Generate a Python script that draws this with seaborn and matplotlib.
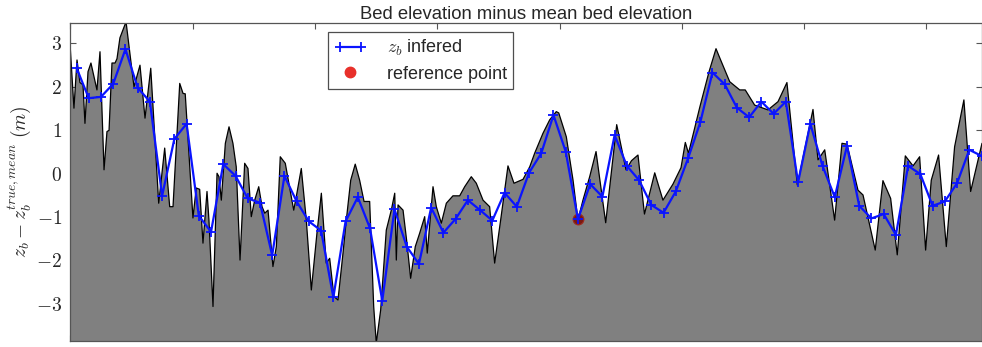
import numpy as np
import pandas as pd
import matplotlib
matplotlib.use("Agg")
import matplotlib.pyplot as plt
from matplotlib.lines import Line2D
from matplotlib.legend_handler import HandlerLine2D
import seaborn as sns

# ---- data ----
bed_x = [0.000, 0.029, 0.054, 0.078, 0.103, 0.119, 0.144, 0.168, 0.217, 0.242,
         0.275, 0.299, 0.316, 0.340, 0.365, 0.381, 0.405, 0.455, 0.520, 0.569,
         0.610, 0.657, 0.722, 0.771, 0.812, 0.839, 0.894, 0.921, 0.939, 1.002,
         1.029, 1.057, 1.084, 1.117, 1.133, 1.166, 1.199, 1.215, 1.234, 1.267,
         1.297, 1.329, 1.356, 1.387, 1.425, 1.452, 1.479, 1.507, 1.540, 1.567,
         1.589, 1.616, 1.656, 1.684, 1.716, 1.757, 1.826, 1.847, 1.888, 1.929,
         1.970, 2.016, 2.052, 2.092, 2.120, 2.155, 2.188, 2.229, 2.256, 2.292,
         2.329, 2.365, 2.401, 2.447, 2.480, 2.501, 2.537, 2.583, 2.624, 2.652,
         2.665, 2.679, 2.720, 2.752, 2.782, 2.820, 2.856, 2.897, 2.918, 2.965,
         2.992, 3.033, 3.074, 3.128, 3.183, 3.224, 3.278, 3.319, 3.374, 3.428,
         3.469, 3.518, 3.578, 3.627, 3.701, 3.756, 3.796, 3.864, 3.919, 3.973,
         3.993, 4.020, 4.055, 4.110, 4.150, 4.191, 4.246, 4.298, 4.377, 4.467,
         4.543, 4.588, 4.641, 4.694, 4.778, 4.845, 4.927, 4.993, 5.028, 5.054,
         5.148, 5.222, 5.279, 5.311, 5.391, 5.473, 5.518, 5.595, 5.704, 5.786,
         5.859, 5.944, 6.072, 6.113, 6.168, 6.249, 6.309, 6.350, 6.440, 6.481,
         6.581, 6.644, 6.707, 6.761, 6.827, 6.890, 6.944, 6.993, 7.039, 7.099,
         7.162, 7.230, 7.306, 7.361, 7.454]
bed_z = [2.85, 1.51, 2.62, 2.10, 2.05, 1.16, 2.35, 2.55, 1.93, 2.81,
         0.09, 0.97, 1.00, 2.55, 2.55, 2.65, 3.13, 3.50, 2.00, 2.50,
         1.28, 2.43, -0.68, 0.59, -0.76, -0.76, 2.08, 1.85, 1.84, -1.02,
         -0.33, -0.36, -1.60, -0.41, -1.07, -3.06, 0.01, -0.07, -0.61, 0.70,
         1.08, 0.70, 0.16, -1.99, 0.24, 0.12, -0.99, -0.61, -0.30, -0.76,
         -0.91, -0.84, -2.14, -1.68, 0.39, 0.24, -0.84, -0.53, 0.12, -1.07,
         -2.68, -1.37, -0.45, -2.06, -1.95, -2.83, -2.91, -1.83, -1.07, -0.15,
         0.22, -0.15, -0.64, -0.64, -3.06, -3.90, -3.14, -1.30, -0.84, -0.45,
         -1.99, -0.72, -0.84, -1.60, -2.41, -1.68, -1.37, -0.99, -1.83, -0.30,
         -0.76, -1.14, -0.68, -0.51, -0.51, -0.30, -0.07, -0.22, -0.61, -0.76,
         -2.06, -1.07, 0.18, -0.22, -0.13, 0.16, 0.47, 0.93, 1.24, 1.43,
         1.40, 1.16, 0.85, -0.15, -1.07, -0.61, -0.07, 0.51, -1.13, 1.13,
         0.09, 0.30, 0.43, -0.93, 0.02, -0.61, -0.24, 0.14, 0.72, 0.47,
         1.55, 2.35, 2.88, 2.66, 2.12, 1.93, 1.93, 1.58, 1.47, 1.66,
         2.10, -0.26, 1.48, 0.32, 0.55, -1.07, 0.70, 0.68, -0.38, -0.49,
         -1.76, -0.16, -0.57, -1.87, 0.41, 0.18, 0.39, -1.76, -0.15, 0.43,
         -1.68, 0.62, 1.70, -0.41, 0.70]

z_inf = [2.44, 1.74, 1.77, 2.07, 2.87, 1.98, 1.66, -0.51, 0.80, 1.15,
         -0.97, -1.34, 0.22, -0.05, -0.57, -0.67, -1.88, -0.05, -0.64, -1.10,
         -1.31, -2.85, -1.10, -0.54, -1.26, -2.93, -0.82, -1.68, -2.08, -0.78,
         -1.36, -1.04, -0.61, -0.84, -1.08, -0.44, -0.76, 0.02, 0.47, 1.35,
         0.51, -1.05, -0.24, -0.53, 0.89, 0.18, -0.15, -0.72, -0.90, -0.41,
         0.35, 1.18, 2.33, 2.06, 1.52, 1.30, 1.66, 1.38, 1.66, -0.20,
         1.15, 0.18, -0.54, 0.64, -0.74, -1.03, -0.93, -1.41, 0.18, -0.01,
         -0.74, -0.64, -0.22, 0.55, 0.41]
x_inf = 0.05 + 0.1 * np.arange(len(z_inf))

ref_x = [4.15]
ref_z = [-1.05]

y_ticks = [-3, -2, -1, 0, 1, 2, 3]
x_ticks = [0, 1, 2, 3, 4, 5, 6, 7]

# ---- plotting ----
sns.set_style("ticks")
plt.rcParams["font.family"] = ["Liberation Sans", "DejaVu Sans"]
plt.rcParams["mathtext.fontset"] = "cm"

fig = plt.figure(figsize=(9.82, 3.47), dpi=100)
ax = fig.add_axes([70.4 / 982, 6 / 347, 1 - 70.4 / 982, 318 / 347])

ymin, ymax = -3.855, 3.472
ax.fill_between(bed_x, ymin - 1, bed_z, color="#808080", linewidth=0, zorder=1)
ax.plot(bed_x, bed_z, color="black", linewidth=0.9, zorder=2)

df_inf = pd.DataFrame({"x": x_inf, "z": z_inf})
sns.lineplot(data=df_inf, x="x", y="z", ax=ax, color="#0a14ff", linewidth=1.6,
             marker="+", markersize=7.5, markeredgewidth=1.3,
             markeredgecolor="#0a14ff", zorder=4, estimator=None, sort=False)

df_ref = pd.DataFrame({"x": ref_x, "z": ref_z})
sns.scatterplot(data=df_ref, x="x", y="z", ax=ax, color="#7a1810", s=60,
                edgecolor="#a02a20", linewidth=0.8, zorder=3)

ax.set_xlim(0, 7.454)
ax.set_ylim(ymin, ymax)
ax.set_xticks(x_ticks)
ax.set_xticklabels([])
ax.set_yticks(y_ticks)
ax.set_yticklabels([f"${v}$" for v in y_ticks], fontsize=14)
ax.tick_params(direction="in", length=4, width=0.8, color="#555555",
               top=True, right=True, pad=6)
for s in ax.spines.values():
    s.set_color("#555555")
    s.set_linewidth(0.9)

ax.set_xlabel("")
ax.set_ylabel(r"$z_b - z_b^{true,mean}\ (m)$", fontsize=14, labelpad=2)
ax.set_title("Bed elevation minus mean bed elevation", fontsize=13.3, pad=3)

h_line = Line2D([0], [0], color="#0a14ff", linewidth=1.6, marker="+",
                markersize=7.5, markeredgewidth=1.3)
h_ref = Line2D([0], [0], color="none", marker="o", markersize=7.5,
               markerfacecolor="#e8302a", markeredgecolor="#e8302a")
labels = [r"$z_b$ infered", "reference point"]
leg = ax.legend([h_line, h_ref], labels, loc="upper left",
                bbox_to_anchor=((328 - 70.4) / 911.6, (341 - 32) / 318),
                borderaxespad=0, fontsize=13, frameon=True, fancybox=False,
                numpoints=2, handlelength=1.75, borderpad=0.35,
                labelspacing=0.4, handletextpad=1.15,
                handler_map={h_ref: HandlerLine2D(numpoints=1)})
leg.get_frame().set_edgecolor("#222222")
leg.get_frame().set_linewidth(0.9)

fig.savefig("out.png", dpi=100)
